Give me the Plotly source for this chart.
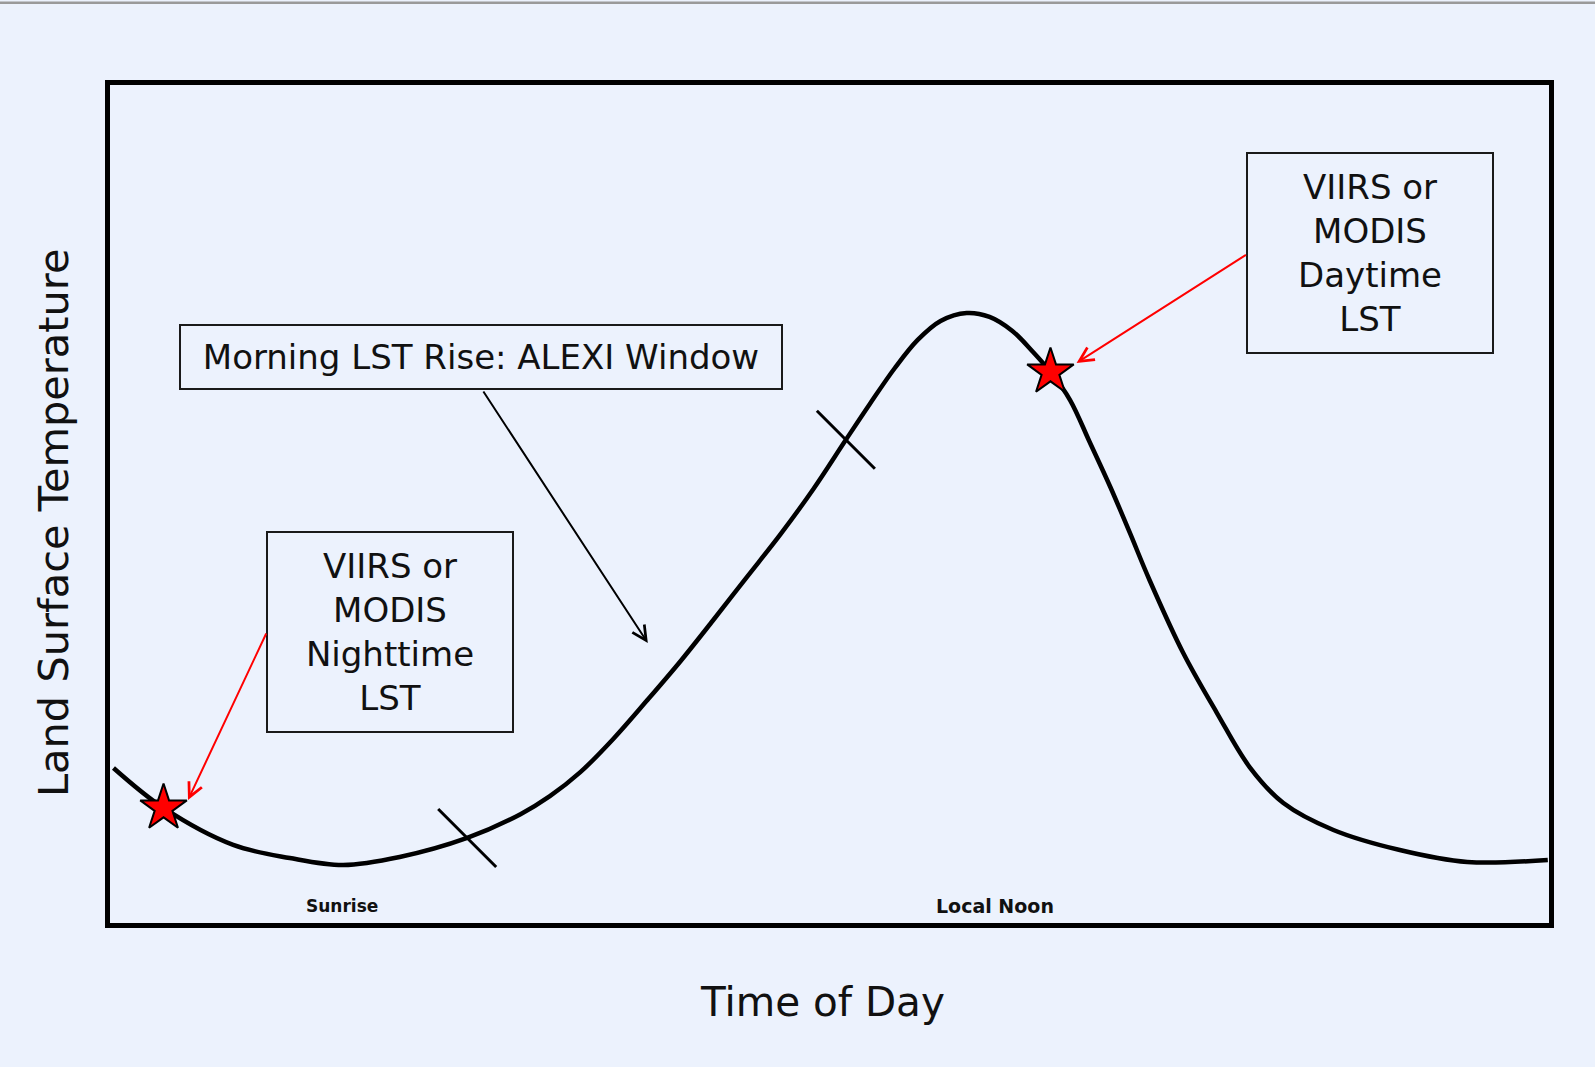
import plotly.graph_objects as go

# ---- data (time of day in hours, land surface temperature in relative units) ----
time_of_day = [3.90, 4.36, 5.00, 5.52, 6.01, 6.53, 7.15, 7.64, 7.91, 8.19, 8.49, 8.80,
               9.11, 9.41, 9.72, 10.03, 10.33, 10.63, 10.85, 11.08, 11.29, 11.50,
               11.74, 11.95, 12.16, 12.35, 12.51, 12.69, 12.87, 13.06, 13.24, 13.42,
               13.73, 14.04, 14.34, 14.65, 15.11, 15.72, 16.34, 17.08]
lst = [18.64, 13.89, 9.50, 7.95, 7.12, 8.07, 10.33, 13.15, 15.29, 18.14, 22.05, 26.61,
       31.31, 36.17, 41.29, 46.39, 51.72, 57.59, 61.84, 66.11, 69.44, 71.69,
       72.64, 72.17, 70.50, 68.01, 65.64, 62.31, 57.33, 51.99, 46.53, 40.95,
       32.28, 25.16, 18.75, 14.48, 11.28, 8.90, 7.48, 7.72]

# satellite overpasses (night, day)
obs_time = [4.36, 12.51]
obs_lst = [13.89, 65.64]

# ALEXI morning window bounds
window_time = [7.15, 10.63]
window_lst = [10.33, 57.59]

# time labels
tick_time = [6, 12]
tick_text = ["Sunrise", "Local Noon"]
tick_size = [17, 19]

# callout boxes: text, centre (x, y)
box_text = ["VIIRS or<br>MODIS<br>Nighttime<br>LST",
            "VIIRS or<br>MODIS<br>Daytime<br>LST",
            "Morning LST Rise: ALEXI Window"]
box_x = [6.44, 15.45, 7.28]
box_y = [34.78, 79.76, 67.42]

# callout arrows: tail (x, y) -> head (x, y)
arrow_tail_x = [5.31, 14.32, 7.29]
arrow_tail_y = [34.78, 79.64, 63.50]
arrow_head_x = [4.585, 12.75, 8.81]
arrow_head_y = [14.84, 66.71, 33.47]
arrow_color = ["#ff0000", "#ff0000", "#000000"]

X_TITLE = "Time of Day"
Y_TITLE = "Land Surface Temperature"

X_RANGE = [3.868, 17.091]
Y_RANGE = [0.237, 99.70]

BG = "#ECF2FD"
FONT = "DejaVu Sans"
TXT = "#111111"

fig = go.Figure()

fig.add_trace(go.Scatter(
    x=time_of_day, y=lst, mode="lines",
    line=dict(color="black", width=4.5, shape="spline", smoothing=1.0),
    hoverinfo="skip", showlegend=False))

fig.add_trace(go.Scatter(
    x=window_time, y=window_lst, mode="markers",
    marker=dict(symbol="line-nw", size=58, line=dict(color="black", width=3)),
    hoverinfo="skip", showlegend=False))

fig.add_trace(go.Scatter(
    x=obs_time, y=obs_lst, mode="markers",
    marker=dict(symbol="star", size=35, color="#ff0000",
                line=dict(color="black", width=2)),
    hoverinfo="skip", showlegend=False))

annotations = []
# boxes
box_sizes = [(244, 198), (244, 198), (600, 62)]
for t, bx, by, (w, h) in zip(box_text, box_x, box_y, box_sizes):
    annotations.append(dict(
        x=bx, y=by, xref="x", yref="y", text=t, showarrow=False,
        xanchor="center", yanchor="middle", align="center", valign="middle",
        width=w, height=h, borderwidth=2, borderpad=0, bordercolor="#1a1a1a",
        font=dict(family=FONT, size=34, color=TXT)))
# arrows
for tx, ty, hx, hy, c in zip(arrow_tail_x, arrow_tail_y, arrow_head_x, arrow_head_y, arrow_color):
    annotations.append(dict(
        x=hx, y=hy, ax=tx, ay=ty, xref="x", yref="y", axref="x", ayref="y",
        text="", showarrow=True, arrowhead=5, arrowsize=1.4, arrowwidth=2,
        arrowcolor=c, standoff=0, startstandoff=0))
# time labels
for tt, lab, fs in zip(tick_time, tick_text, tick_size):
    annotations.append(dict(
        x=tt, y=0, xref="x", yref="paper", text="<b>" + lab + "</b>",
        showarrow=False, xanchor="center", yanchor="middle", yshift=17,
        font=dict(family=FONT, size=fs, color=TXT)))
# axis titles
annotations.append(dict(
    x=0.4948, y=0, xref="paper", yref="paper", text=X_TITLE, showarrow=False,
    xanchor="center", yanchor="middle", yshift=-79,
    font=dict(family=FONT, size=40.5, color=TXT)))
annotations.append(dict(
    x=0, y=0.4797, xref="paper", yref="paper", text=Y_TITLE, showarrow=False,
    textangle=-90, xanchor="center", yanchor="middle", xshift=-57, yshift=-2,
    font=dict(family=FONT, size=41.5, color=TXT)))

fig.update_layout(
    width=1595, height=1067,
    margin=dict(l=110, r=46, t=85, b=144, pad=0),
    paper_bgcolor=BG, plot_bgcolor=BG,
    showlegend=False,
    font=dict(family=FONT, color=TXT),
    annotations=annotations,
    shapes=[dict(type="line", xref="paper", yref="paper",
                 x0=-0.08, x1=1.04, y0=1.0981, y1=1.0981,
                 line=dict(color="#9a9a9a", width=2.5))],
    xaxis=dict(range=X_RANGE, showgrid=False, zeroline=False, showticklabels=False,
               ticks="", showline=True, mirror=True, linewidth=5, linecolor="black"),
    yaxis=dict(range=Y_RANGE, showgrid=False, zeroline=False, showticklabels=False,
               ticks="", showline=True, mirror=True, linewidth=5, linecolor="black"),
)

fig.write_html("out.html", config={"displayModeBar": False},
               post_script="document.body.style.margin='0';document.body.style.overflow='hidden';")
